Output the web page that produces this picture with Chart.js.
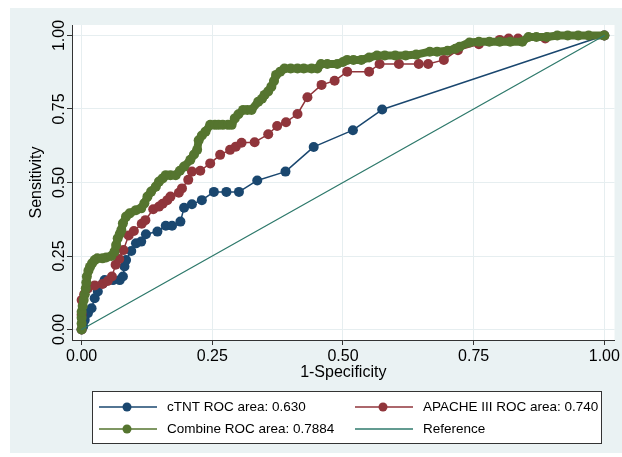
<!DOCTYPE html>
<html>
<head>
<meta charset="utf-8">
<script src="https://cdn.jsdelivr.net/npm/chart.js@4.4.1/dist/chart.umd.min.js"></script>
<style>
  html, body { margin: 0; padding: 0; background: #fff; }
  #wrap { width: 622px; height: 457px; }
</style>
</head>
<body>
<div id="wrap"><canvas id="roc" width="622" height="457"></canvas></div>
<script>
// axis ticks
const xTicks = [0, 0.25, 0.5, 0.75, 1];
const yTicks = [0, 0.25, 0.5, 0.75, 1];

// legend labels
const seriesLabels = ['cTNT ROC area: 0.630', 'APACHE III ROC area: 0.740', 'Combine ROC area: 0.7884', 'Reference'];

// cTNT (1-specificity, sensitivity)
const ctntFpr = [0, 0.003, 0.006, 0.012, 0.019, 0.025, 0.031, 0.041, 0.044, 0.06, 0.073, 0.079, 0.082, 0.085, 0.095, 0.104, 0.114, 0.123, 0.145, 0.161, 0.173, 0.189, 0.196, 0.211, 0.23, 0.253, 0.277, 0.301, 0.336, 0.39, 0.444, 0.519, 0.575, 1];
const ctntTpr = [0, 0.01, 0.032, 0.055, 0.072, 0.106, 0.129, 0.157, 0.168, 0.168, 0.168, 0.18, 0.214, 0.236, 0.267, 0.293, 0.299, 0.324, 0.333, 0.353, 0.353, 0.367, 0.414, 0.426, 0.44, 0.468, 0.468, 0.468, 0.507, 0.537, 0.621, 0.678, 0.748, 1];

// APACHE III
const apacheFpr = [0, 0, 0, 0.005, 0.012, 0.025, 0.04, 0.05, 0.058, 0.065, 0.072, 0.08, 0.09, 0.1, 0.115, 0.122, 0.137, 0.148, 0.155, 0.164, 0.17, 0.186, 0.192, 0.204, 0.211, 0.227, 0.246, 0.265, 0.284, 0.295, 0.306, 0.331, 0.357, 0.374, 0.391, 0.413, 0.432, 0.459, 0.484, 0.508, 0.55, 0.57, 0.607, 0.645, 0.663, 0.693, 0.72, 0.76, 0.8, 0.817, 0.835, 0.887, 1];
const apacheTpr = [0, 0.05, 0.1, 0.12, 0.14, 0.15, 0.155, 0.165, 0.18, 0.22, 0.24, 0.27, 0.32, 0.335, 0.36, 0.372, 0.409, 0.418, 0.428, 0.44, 0.452, 0.465, 0.48, 0.509, 0.537, 0.54, 0.565, 0.594, 0.611, 0.622, 0.635, 0.637, 0.664, 0.692, 0.705, 0.733, 0.79, 0.832, 0.846, 0.877, 0.877, 0.903, 0.903, 0.903, 0.903, 0.917, 0.95, 0.97, 0.985, 0.99, 0.99, 0.99, 1];

// Combine
const combFpr = [0, 0, 0, 0, 0.002, 0.004, 0.006, 0.008, 0.009, 0.01, 0.013, 0.016, 0.02, 0.025, 0.03, 0.04, 0.047, 0.057, 0.063, 0.066, 0.069, 0.073, 0.076, 0.079, 0.085, 0.092, 0.104, 0.114, 0.12, 0.126, 0.133, 0.142, 0.148, 0.155, 0.161, 0.17, 0.18, 0.188, 0.196, 0.208, 0.215, 0.221, 0.224, 0.23, 0.237, 0.246, 0.255, 0.262, 0.27, 0.28, 0.287, 0.293, 0.3, 0.309, 0.317, 0.325, 0.338, 0.345, 0.35, 0.357, 0.363, 0.368, 0.372, 0.38, 0.388, 0.4, 0.413, 0.425, 0.44, 0.451, 0.458, 0.47, 0.489, 0.5, 0.508, 0.52, 0.535, 0.55, 0.565, 0.58, 0.6, 0.62, 0.64, 0.666, 0.68, 0.7, 0.715, 0.723, 0.742, 0.76, 0.78, 0.8, 0.82, 0.843, 0.855, 0.87, 0.89, 0.91, 0.93, 0.95, 0.97, 1];
const combTpr = [0, 0.02, 0.04, 0.06, 0.08, 0.1, 0.12, 0.14, 0.16, 0.18, 0.2, 0.213, 0.225, 0.236, 0.242, 0.242, 0.245, 0.25, 0.265, 0.287, 0.31, 0.325, 0.338, 0.361, 0.384, 0.395, 0.406, 0.412, 0.429, 0.452, 0.469, 0.486, 0.503, 0.514, 0.525, 0.525, 0.525, 0.54, 0.554, 0.577, 0.595, 0.611, 0.644, 0.66, 0.673, 0.696, 0.696, 0.696, 0.696, 0.696, 0.696, 0.718, 0.732, 0.747, 0.747, 0.747, 0.775, 0.785, 0.798, 0.81, 0.826, 0.845, 0.866, 0.877, 0.888, 0.888, 0.888, 0.888, 0.888, 0.888, 0.903, 0.903, 0.903, 0.91, 0.917, 0.917, 0.917, 0.925, 0.932, 0.932, 0.932, 0.932, 0.935, 0.945, 0.945, 0.948, 0.955, 0.962, 0.976, 0.979, 0.979, 0.979, 0.979, 0.979, 0.995, 0.995, 0.995, 1, 1, 1, 1, 1];

// Reference diagonal
const refFpr = [0, 1];
const refTpr = [0, 1];

const colors = ['#1a476f', '#90353b', '#55752f', '#2f7a6c'];
const FONT = '"Liberation Sans", Arial, sans-serif';

function toPoints(xs, ys) {
    return xs.map((x, i) => ({ x: x, y: ys[i] }));
}

// Stata-like background: light frame, white plot region
const backgroundPlugin = {
    id: 'stataBackground',
    beforeDraw: function(chart) {
        const ctx = chart.ctx;
        const area = chart.chartArea;
        ctx.save();
        ctx.fillStyle = '#ffffff';
        ctx.fillRect(0, 0, chart.width, chart.height);
        ctx.fillStyle = '#eaf2f3';
        ctx.fillRect(10, 8, chart.width - 10, 445);
        ctx.fillStyle = '#ffffff';
        ctx.fillRect(area.left, area.top, area.right - area.left, area.bottom - area.top);
        ctx.restore();
    }
};

// vertical y tick labels + boxed two-column legend
const extrasPlugin = {
    id: 'stataExtras',
    afterDraw: function(chart) {
        const ctx = chart.ctx;
        const yScale = chart.scales.y;
        ctx.save();
        ctx.fillStyle = '#000';
        ctx.font = '16px ' + FONT;
        ctx.textAlign = 'center';
        ctx.textBaseline = 'middle';
        yScale.ticks.forEach(t => {
            const py = yScale.getPixelForValue(t.value);
            ctx.save();
            ctx.translate(60, py);
            ctx.rotate(-Math.PI / 2);
            ctx.fillText(t.value.toFixed(2), 0, 0);
            ctx.restore();
        });

        // legend box
        const box = { x: 92, y: 391, w: 509, h: 52 };
        ctx.fillStyle = '#ffffff';
        ctx.fillRect(box.x, box.y, box.w, box.h);
        ctx.strokeStyle = '#333';
        ctx.lineWidth = 1;
        ctx.strokeRect(box.x + 0.5, box.y + 0.5, box.w, box.h);

        const cols = [{ x0: 99, x1: 157, mx: 127, tx: 167 }, { x0: 355, x1: 413, mx: 383, tx: 423 }];
        const rows = [407, 429];
        seriesLabels.forEach((label, i) => {
            const c = cols[i % 2];
            const y = rows[Math.floor(i / 2)];
            ctx.strokeStyle = colors[i];
            ctx.lineWidth = 1.5;
            ctx.beginPath();
            ctx.moveTo(c.x0, y);
            ctx.lineTo(c.x1, y);
            ctx.stroke();
            if (i < 3) {
                ctx.fillStyle = colors[i];
                ctx.beginPath();
                ctx.arc(c.mx, y, 4.5, 0, Math.PI * 2);
                ctx.fill();
            }
            ctx.fillStyle = '#000';
            ctx.font = '13.5px ' + FONT;
            ctx.textAlign = 'left';
            ctx.fillText(label, c.tx, y);
        });
        ctx.restore();
    }
};

// combine curve has dense overlapping markers -> drawn as a thick band
const series = [
    { fx: ctntFpr, ty: ctntTpr, order: 4, marker: 5, width: 1.5 },
    { fx: apacheFpr, ty: apacheTpr, order: 3, marker: 5, width: 1.5 },
    { fx: combFpr, ty: combTpr, order: 2, marker: 5, width: 8 },
    { fx: refFpr, ty: refTpr, order: 1, marker: 0, width: 1.3 }
];

const chartData = {
    datasets: series.map((s, i) => ({
        label: seriesLabels[i],
        data: toPoints(s.fx, s.ty),
        showLine: true,
        borderColor: colors[i],
        backgroundColor: colors[i],
        borderWidth: s.width,
        borderJoinStyle: 'round',
        borderCapStyle: 'round',
        pointRadius: s.marker,
        pointBorderWidth: 0,
        pointHoverRadius: s.marker,
        order: s.order
    }))
};

const gridOpts = { color: '#e6eef0', lineWidth: 1, tickLength: 5, tickColor: '#333', drawTicks: true };

new Chart(document.getElementById('roc').getContext('2d'), {
    type: 'scatter',
    data: chartData,
    options: {
        responsive: false,
        devicePixelRatio: 1,
        animation: false,
        layout: { padding: { left: 10, top: 25, right: 3, bottom: 75 } },
        plugins: { legend: { display: false }, tooltip: { enabled: false } },
        scales: {
            x: {
                type: 'linear',
                min: -0.0184,
                max: 1.0195,
                afterBuildTicks: s => { s.ticks = xTicks.map(v => ({ value: v })); },
                afterFit: s => { s.height = 42; },
                ticks: {
                    callback: v => Number(v).toFixed(2),
                    font: { family: FONT, size: 16 },
                    color: '#000',
                    padding: 2,
                    maxRotation: 0
                },
                grid: gridOpts,
                border: { display: true, color: '#333', width: 1 },
                title: { display: true, text: '1-Specificity', font: { family: FONT, size: 16 }, color: '#000', padding: { top: 0, bottom: 0 } }
            },
            y: {
                type: 'linear',
                min: -0.0357,
                max: 1.0357,
                afterBuildTicks: s => { s.ticks = yTicks.map(v => ({ value: v })); },
                afterFit: s => { s.width = 62; },
                ticks: { display: false },
                grid: gridOpts,
                border: { display: true, color: '#333', width: 1 },
                title: { display: true, text: 'Sensitivity', font: { family: FONT, size: 16 }, color: '#000', padding: { top: 17, bottom: 0 } }
            }
        }
    },
    plugins: [backgroundPlugin, extrasPlugin]
});
</script>
</body>
</html>
